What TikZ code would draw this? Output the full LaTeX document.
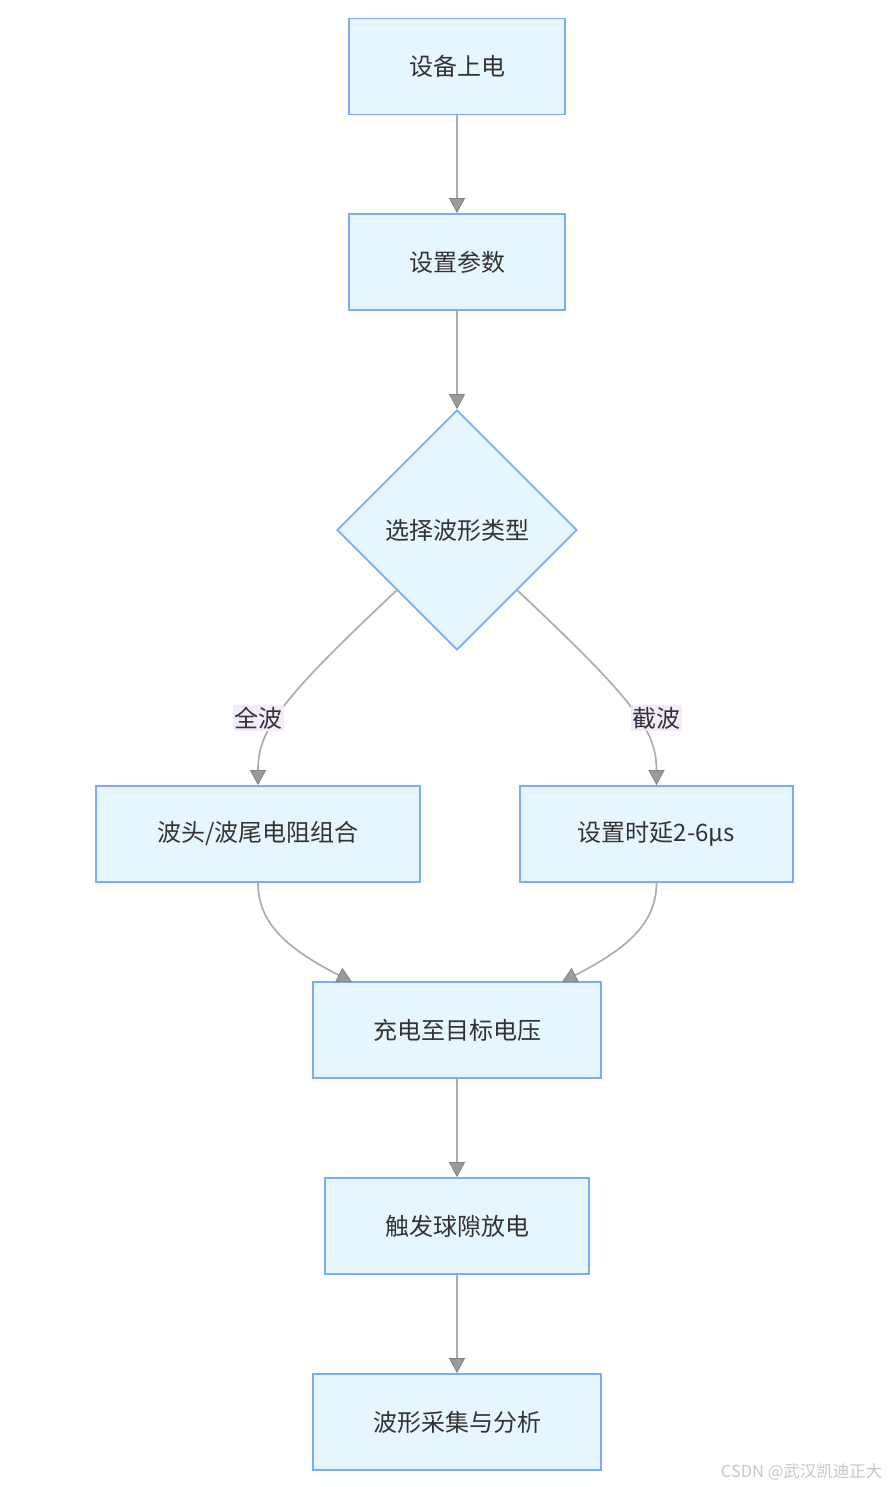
\documentclass[tikz,border=0pt]{standalone}
\usepackage{fontspec}
\setmainfont{Noto Sans CJK SC}
\usepackage{tikz}
\usetikzlibrary{positioning,shapes.geometric,arrows.meta}
\usepackage{xcolor}
\definecolor{boxfill}{RGB}{230,246,254}
\definecolor{boxline}{RGB}{126,170,250}
\definecolor{edgegray}{RGB}{172,172,172}
\definecolor{tipgray}{RGB}{155,155,155}
\definecolor{tipline}{RGB}{130,130,130}
\definecolor{lblfill}{RGB}{243,234,250}
\definecolor{txt}{RGB}{51,51,51}

\tikzset{
  box/.style={draw=boxline, fill=boxfill, line width=1.8pt, minimum height=96pt,
    inner sep=0pt, text=txt, font=\fontsize{24}{28}\selectfont},
  decision/.style={diamond, draw=boxline, fill=boxfill, line width=1.8pt,
    minimum width=240pt, minimum height=240pt, inner sep=0pt, text=txt,
    font=\fontsize{24}{28}\selectfont},
  lbl/.style={fill=lblfill, inner sep=1.5pt, text=txt, font=\fontsize{24}{28}\selectfont},
  arr/.style={draw=edgegray, line width=1.7pt,
    -{Triangle[width=16pt,length=15pt,fill=tipgray,color=tipline,line width=0.8pt]}}
}

\begin{document}
\begin{tikzpicture}[x=1pt,y=-1pt]
    \useasboundingbox (0,0) rectangle (889,1487);

    % Draw nodes
    \node[box, minimum width=216pt] (power) at (457,66.5) {设备上电};
    \node[box, minimum width=216pt] (param) at (457,262) {设置参数};
    \node[decision] (choose) at (457,530) {选择波形类型};
    \node[box, minimum width=324pt] (full) at (258,834) {波头/波尾电阻组合};
    \node[box, minimum width=273pt] (chop) at (656.5,834) {设置时延2-6μs};
    \node[box, minimum width=288pt] (charge) at (457,1030) {充电至目标电压};
    \node[box, minimum width=264pt] (fire) at (457,1226) {触发球隙放电};
    \node[box, minimum width=288pt] (acq) at (457,1422) {波形采集与分析};

    % Entry points on the charge box
    \coordinate (inL) at (352,982);
    \coordinate (inR) at (562,982);

    % Draw edges
    \draw[arr] (power) -- (param);
    \draw[arr] (param) -- (choose);
    \draw[arr] (choose.south west) .. controls (280,700) and (258,730) .. (full.north);
    \draw[arr] (choose.south east) .. controls (634,700) and (656.5,730) .. (chop.north);
    \draw[arr] (full.south) .. controls (258,925) and (290,950) .. (inL);
    \draw[arr] (chop.south) .. controls (656.5,925) and (624,950) .. (inR);
    \draw[arr] (charge) -- (fire);
    \draw[arr] (fire) -- (acq);

    % Edge labels
    \node[lbl] (lfull) at (258,718) {全波};
    \node[lbl] (lchop) at (656.5,718) {截波};

    % Watermark
    \node[anchor=east, text=black!22, font=\fontsize{16.5}{19}\selectfont] (mark) at (886,1472) {CSDN @武汉凯迪正大};
\end{tikzpicture}
\end{document}
